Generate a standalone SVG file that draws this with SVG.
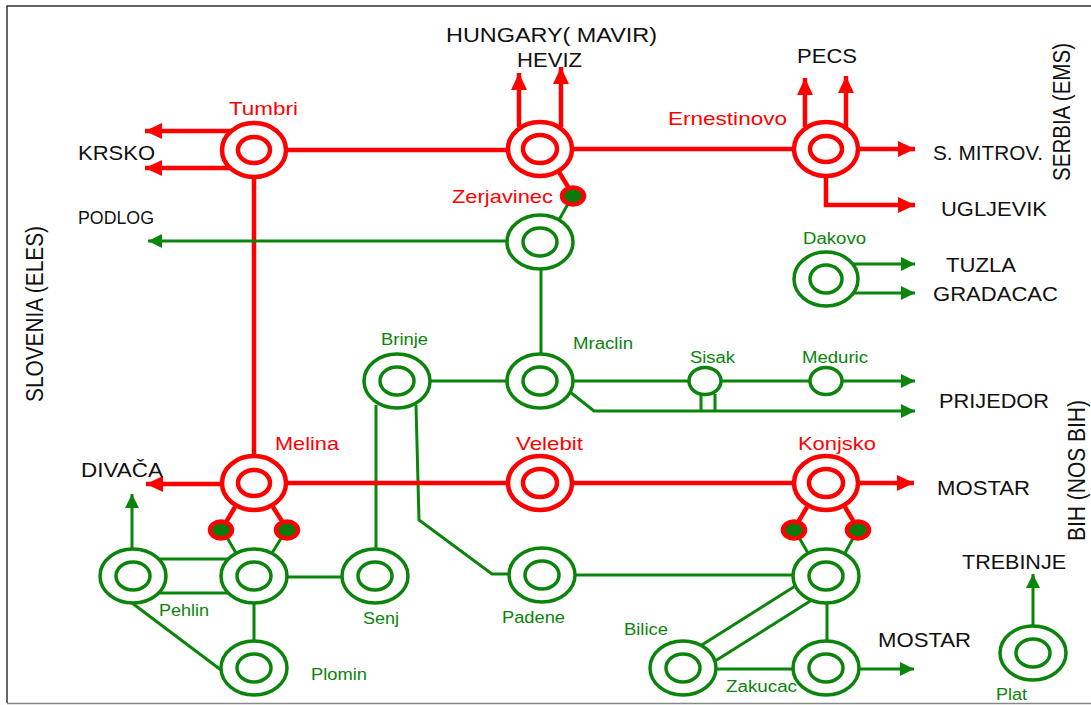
<svg xmlns="http://www.w3.org/2000/svg" width="1091" height="705" viewBox="0 0 1091 705">
<style>
text{font-family:"Liberation Sans",Arial,sans-serif}
.k{fill:#111;font-size:21px}
.v{fill:#111;font-size:23px}
.r{fill:#f00;font-size:19px}
.g{fill:#0a840a;font-size:16px}
.ro{fill:#fff;stroke:#f00;stroke-width:4.5}
.go{fill:#fff;stroke:#0a840a;stroke-width:3.5}
.R{stroke:#f00;stroke-width:4.5;fill:none}
.G{stroke:#0a840a;stroke-width:3;fill:none}
.dot{fill:#0a7a0a;stroke:#f00;stroke-width:4.5}
</style>
<defs>
<marker id="ar" markerUnits="userSpaceOnUse" markerWidth="18" markerHeight="16" refX="17" refY="8" orient="auto"><path d="M0,0L17,8L0,16Z" fill="#f00"/></marker>
<marker id="ag" markerUnits="userSpaceOnUse" markerWidth="15" markerHeight="14" refX="14" refY="7" orient="auto"><path d="M0,0L14,7L0,14Z" fill="#0a840a"/></marker>
</defs>
<rect width="1091" height="705" fill="#fff"/>
<path d="M7,703V6H1091" fill="none" stroke="#333" stroke-width="1.5"/>
<path d="M7,703.500H1091" fill="none" stroke="#888" stroke-width="1.500"/>
<g id="connectors">
<path class="R" d="M235,131H145" marker-end="url(#ar)"/>
<path class="R" d="M235,168H145" marker-end="url(#ar)"/>
<path class="R" d="M286,150H508"/>
<path class="R" d="M573,149H794"/>
<path class="R" d="M254,177V456"/>
<path class="R" d="M519,127V73" marker-end="url(#ar)"/>
<path class="R" d="M561,127V67" marker-end="url(#ar)"/>
<path class="R" d="M805,127V78" marker-end="url(#ar)"/>
<path class="R" d="M846,127V76" marker-end="url(#ar)"/>
<path class="R" d="M858,149H915" marker-end="url(#ar)"/>
<path class="R" d="M826,176V205H915" marker-end="url(#ar)"/>
<path class="R" d="M559,172L573,195"/>
<path class="G" d="M573,195L559,220"/>
<path class="G" d="M508,241H148" marker-end="url(#ag)"/>
<path class="G" d="M541,269V354"/>
<path class="G" d="M845,264H915" marker-end="url(#ag)"/>
<path class="G" d="M845,293H915" marker-end="url(#ag)"/>
<path class="G" d="M430,381H508"/>
<path class="G" d="M573,381H689M721,381H810M842,381H915" marker-end="url(#ag)"/>
<path class="G" d="M570,392L594,411H915" marker-end="url(#ag)"/>
<path class="G" d="M701,394V411M715,394V411"/>
<path class="G" d="M376,405V549"/>
<path class="G" d="M416,405L419,520L492,574H510"/>
<path class="R" d="M286,483H508"/>
<path class="R" d="M573,483H794"/>
<path class="R" d="M222,484H146" marker-end="url(#ar)"/>
<path class="R" d="M858,483H914" marker-end="url(#ar)"/>
<path class="R" d="M235,507L222,529M273,507L287,529"/>
<path class="R" d="M807,507L794,529M845,507L858,529"/>
<path class="G" d="M222,529L236,553M287,529L272,553"/>
<path class="G" d="M794,529L808,553M858,529L845,553"/>
<path class="G" d="M132,549V494" marker-end="url(#ag)"/>
<path class="G" d="M150,559H240M150,593H240"/>
<path class="G" d="M287,577H343"/>
<path class="G" d="M254,603V641"/>
<path class="G" d="M132,603L221,670"/>
<path class="G" d="M575,575H794"/>
<path class="G" d="M800,583L697,648M815,598L712,663"/>
<path class="G" d="M827,603V641"/>
<path class="G" d="M716,669H794"/>
<path class="G" d="M859,669H914" marker-end="url(#ag)"/>
<path class="G" d="M1033,625V574" marker-end="url(#ag)"/>
</g>
<g id="n-tumbri"><ellipse class="ro" cx="254" cy="150" rx="32" ry="27"/><ellipse class="ro" cx="254" cy="150" rx="16" ry="13"/><text class="r" x="229" y="115" textLength="69" lengthAdjust="spacingAndGlyphs">Tumbri</text></g>
<g id="n-heviz"><ellipse class="ro" cx="540" cy="149" rx="32" ry="27"/><ellipse class="ro" cx="540" cy="149" rx="17" ry="14"/></g>
<g id="n-ernestinovo"><ellipse class="ro" cx="826" cy="149" rx="32" ry="27"/><ellipse class="ro" cx="826" cy="149" rx="16" ry="13"/><text class="r" x="668" y="125" textLength="119" lengthAdjust="spacingAndGlyphs">Ernestinovo</text></g>
<g id="n-zerjavinec"><ellipse class="dot" cx="573" cy="196" rx="11" ry="8.500"/><ellipse class="go" cx="540" cy="242" rx="33" ry="27"/><ellipse class="go" cx="540" cy="242" rx="17" ry="14"/><text class="r" x="452" y="203" textLength="101" lengthAdjust="spacingAndGlyphs">Zerjavinec</text></g>
<g id="n-dakovo"><ellipse class="go" cx="826" cy="279" rx="32" ry="27"/><ellipse class="go" cx="826" cy="279" rx="16" ry="14"/><text class="g" x="803" y="244" textLength="63" lengthAdjust="spacingAndGlyphs">Dakovo</text></g>
<g id="n-brinje"><ellipse class="go" cx="397" cy="381" rx="33" ry="27"/><ellipse class="go" cx="397" cy="381" rx="17" ry="14"/><text class="g" x="381" y="345" textLength="47" lengthAdjust="spacingAndGlyphs">Brinje</text></g>
<g id="n-mraclin"><ellipse class="go" cx="540" cy="381" rx="33" ry="27"/><ellipse class="go" cx="540" cy="381" rx="17" ry="14"/><text class="g" x="573" y="349" textLength="60" lengthAdjust="spacingAndGlyphs">Mraclin</text></g>
<g id="n-sisak"><ellipse class="go" cx="705" cy="381" rx="16" ry="13.500"/><text class="g" x="690" y="363" textLength="45" lengthAdjust="spacingAndGlyphs">Sisak</text></g>
<g id="n-meduric"><ellipse class="go" cx="826" cy="381" rx="16" ry="13.500"/><text class="g" x="802" y="363" textLength="66" lengthAdjust="spacingAndGlyphs">Meduric</text></g>
<g id="n-melina"><ellipse class="ro" cx="254" cy="483" rx="32" ry="27"/><ellipse class="ro" cx="254" cy="483" rx="16" ry="13"/><ellipse class="dot" cx="221" cy="530" rx="11" ry="8.500"/><ellipse class="dot" cx="287" cy="530" rx="11" ry="8.500"/><text class="r" x="275" y="450" textLength="64" lengthAdjust="spacingAndGlyphs">Melina</text></g>
<g id="n-velebit"><ellipse class="ro" cx="540" cy="483" rx="32" ry="27"/><ellipse class="ro" cx="540" cy="483" rx="17" ry="14"/><text class="r" x="516" y="450" textLength="67" lengthAdjust="spacingAndGlyphs">Velebit</text></g>
<g id="n-konjsko"><ellipse class="ro" cx="826" cy="483" rx="32" ry="27"/><ellipse class="ro" cx="826" cy="483" rx="17" ry="14"/><ellipse class="dot" cx="794" cy="530" rx="11" ry="8.500"/><ellipse class="dot" cx="858" cy="530" rx="11" ry="8.500"/><text class="r" x="798" y="450" textLength="78" lengthAdjust="spacingAndGlyphs">Konjsko</text></g>
<g id="n-pehlin-a"><ellipse class="go" cx="133" cy="576" rx="33" ry="27"/><ellipse class="go" cx="133" cy="576" rx="17" ry="14"/></g>
<g id="n-pehlin-b"><ellipse class="go" cx="254" cy="576" rx="33" ry="27"/><ellipse class="go" cx="254" cy="576" rx="17" ry="14"/><text class="g" x="159" y="616" textLength="50" lengthAdjust="spacingAndGlyphs">Pehlin</text></g>
<g id="n-senj"><ellipse class="go" cx="375" cy="576" rx="33" ry="27"/><ellipse class="go" cx="375" cy="576" rx="17" ry="14"/><text class="g" x="363" y="624" textLength="36" lengthAdjust="spacingAndGlyphs">Senj</text></g>
<g id="n-padene"><ellipse class="go" cx="542" cy="575" rx="33" ry="27"/><ellipse class="go" cx="542" cy="575" rx="17" ry="14"/><text class="g" x="502" y="623" textLength="63" lengthAdjust="spacingAndGlyphs">Padene</text></g>
<g id="n-konjsko-g"><ellipse class="go" cx="826" cy="576" rx="33" ry="27"/><ellipse class="go" cx="826" cy="576" rx="17" ry="14"/></g>
<g id="n-plomin"><ellipse class="go" cx="254" cy="668" rx="33" ry="27"/><ellipse class="go" cx="254" cy="668" rx="17" ry="14"/><text class="g" x="311" y="680" textLength="56" lengthAdjust="spacingAndGlyphs">Plomin</text></g>
<g id="n-bilice"><ellipse class="go" cx="683" cy="668" rx="33" ry="27"/><ellipse class="go" cx="683" cy="668" rx="17" ry="14"/><text class="g" x="624" y="635" textLength="44" lengthAdjust="spacingAndGlyphs">Bilice</text></g>
<g id="n-zakucac"><ellipse class="go" cx="826" cy="668" rx="33" ry="27"/><ellipse class="go" cx="826" cy="668" rx="17" ry="14"/><text class="g" x="726" y="692" textLength="71" lengthAdjust="spacingAndGlyphs">Zakucac</text></g>
<g id="n-plat"><ellipse class="go" cx="1033" cy="653" rx="33" ry="27"/><ellipse class="go" cx="1033" cy="653" rx="17" ry="14"/><text class="g" x="996" y="700" textLength="31" lengthAdjust="spacingAndGlyphs">Plat</text></g>
<g id="labels">
<text class="k" x="446" y="42" textLength="211" lengthAdjust="spacingAndGlyphs">HUNGARY( MAVIR)</text>
<text class="k" x="517" y="67" textLength="65" lengthAdjust="spacingAndGlyphs">HEVIZ</text>
<text class="k" x="797" y="63" textLength="60" lengthAdjust="spacingAndGlyphs">PECS</text>
<text class="k" x="78" y="160" textLength="77" lengthAdjust="spacingAndGlyphs">KRSKO</text>
<text class="k" x="78" y="224" style="font-size:18px" textLength="76" lengthAdjust="spacingAndGlyphs">PODLOG</text>
<text class="k" x="933" y="160" textLength="110" lengthAdjust="spacingAndGlyphs">S. MITROV.</text>
<text class="k" x="941" y="216" textLength="106" lengthAdjust="spacingAndGlyphs">UGLJEVIK</text>
<text class="k" x="946" y="272" textLength="70" lengthAdjust="spacingAndGlyphs">TUZLA</text>
<text class="k" x="933" y="301" textLength="125" lengthAdjust="spacingAndGlyphs">GRADACAC</text>
<text class="k" x="939" y="408" textLength="110" lengthAdjust="spacingAndGlyphs">PRIJEDOR</text>
<text class="k" x="81" y="477" textLength="82" lengthAdjust="spacingAndGlyphs">DIVAČA</text>
<text class="k" x="937" y="495" textLength="93" lengthAdjust="spacingAndGlyphs">MOSTAR</text>
<text class="k" x="962" y="569" textLength="104" lengthAdjust="spacingAndGlyphs">TREBINJE</text>
<text class="k" x="878" y="647" textLength="93" lengthAdjust="spacingAndGlyphs">MOSTAR</text>
<text class="v" transform="translate(1070,181) rotate(-90)" textLength="138" lengthAdjust="spacingAndGlyphs">SERBIA (EMS)</text>
<text class="v" transform="translate(1085,541) rotate(-90)" textLength="141" lengthAdjust="spacingAndGlyphs">BIH (NOS BIH)</text>
<text class="v" transform="translate(43,402) rotate(-90)" textLength="176" lengthAdjust="spacingAndGlyphs">SLOVENIA (ELES)</text>
</g>
</svg>
